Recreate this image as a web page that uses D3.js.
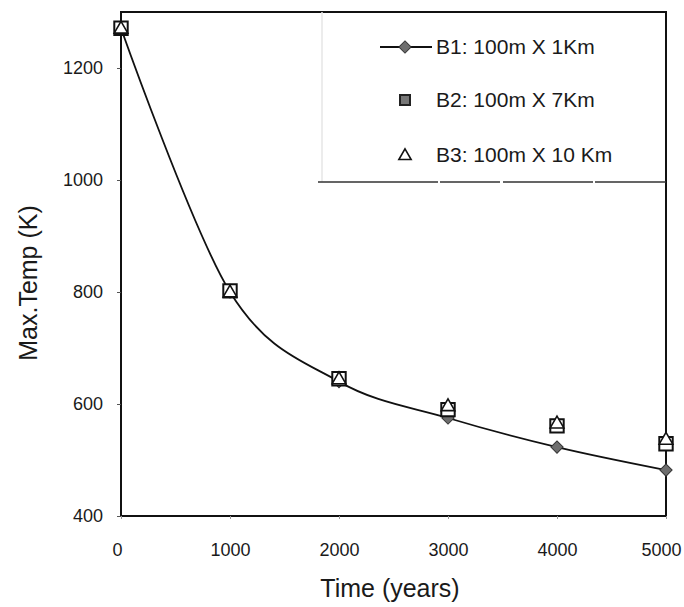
<!DOCTYPE html>
<html>
<head>
<meta charset="utf-8">
<script src="https://cdn.jsdelivr.net/npm/d3@7"></script>
<style>
  html, body { margin: 0; padding: 0; background: #fff; }
  svg { display: block; }
  text { font-family: "Liberation Sans", Arial, sans-serif; fill: #1a1a1a; }
</style>
</head>
<body>
<svg id="chart" width="684" height="607"></svg>
<script>
// ---- data ----
const times = [0, 1000, 2000, 3000, 4000, 5000];
const b1 = [1271, 800, 640, 575, 523, 482];
const b2 = [1271, 802, 645, 590, 561, 529];
const b3 = [1271, 800, 645, 597, 566, 537];
const xTicks = [0, 1000, 2000, 3000, 4000, 5000];
const yTicks = [400, 600, 800, 1000, 1200];
const seriesNames = ["B1: 100m X 1Km", "B2: 100m X 7Km", "B3: 100m X 10 Km"];

const svg = d3.select("#chart");
const x = d3.scaleLinear().domain([0, 5000]).range([121, 666]);
const y = d3.scaleLinear().domain([400, 1300]).range([516, 12]);

// frame
svg.append("rect")
  .attr("x", x(0)).attr("y", y(1300))
  .attr("width", x(5000) - x(0)).attr("height", y(400) - y(1300))
  .attr("fill", "none").attr("stroke", "#111").attr("stroke-width", 2);

// axes
const yAxis = svg.append("g").attr("transform", `translate(${x(0)},0)`)
  .call(d3.axisLeft(y).tickValues(yTicks).tickSize(4).tickPadding(14).tickFormat(d3.format("d")));
yAxis.select(".domain").remove();
yAxis.selectAll("line").attr("stroke", "#555");
yAxis.selectAll("text").style("font-size", "18px").attr("fill", "#1a1a1a");

const xAxis = svg.append("g").attr("transform", `translate(0,${y(400)})`)
  .call(d3.axisBottom(x).tickValues(xTicks).tickSize(3).tickPadding(24).tickFormat(d3.format("d")));
xAxis.select(".domain").remove();
xAxis.selectAll("line").attr("stroke", "#999");
xAxis.selectAll("text").style("font-size", "18px").attr("fill", "#1a1a1a")
  .attr("dx", d => d === 5000 ? -5 : (d === 0 ? -4 : 0));

// axis titles
svg.append("text").attr("x", 390).attr("y", 597).attr("text-anchor", "middle")
  .style("font-size", "25px").text("Time (years)");
svg.append("text").attr("transform", "translate(37,283) rotate(-90)").attr("text-anchor", "middle")
  .style("font-size", "25px").text("Max.Temp (K)");

// B1 smooth line
const pts1 = times.map((t, i) => [t, b1[i]]);
svg.append("path").datum(pts1)
  .attr("d", d3.line().x(d => x(d[0])).y(d => y(d[1])).curve(d3.curveCardinal.tension(0)))
  .attr("fill", "none").attr("stroke", "#111").attr("stroke-width", 1.8);

const diamond = d3.symbol().type(d3.symbolSquare).size(75);
const square = d3.symbol().type(d3.symbolSquare).size(180);
const triangle = d3.symbol().type(d3.symbolTriangle).size(80);

svg.append("g").selectAll("path").data(pts1).join("path")
  .attr("transform", d => `translate(${x(d[0])},${y(d[1])}) rotate(45)`)
  .attr("d", diamond).attr("fill", "#6e6e6e").attr("stroke", "#333").attr("stroke-width", 1);

svg.append("g").selectAll("path").data(times.map((t, i) => [t, b2[i]])).join("path")
  .attr("transform", d => `translate(${x(d[0])},${y(d[1])})`)
  .attr("d", square).attr("fill", "#fff").attr("stroke", "#111").attr("stroke-width", 2);

svg.append("g").selectAll("path").data(times.map((t, i) => [t, b3[i]])).join("path")
  .attr("transform", d => `translate(${x(d[0])},${y(d[1]) + 1})`)
  .attr("d", triangle).attr("fill", "#fff").attr("stroke", "#111").attr("stroke-width", 1.6);

// legend box (shares frame top and right)
const lgLeft = 322, lgBottom = 182;
svg.append("line").attr("x1", lgLeft).attr("x2", lgLeft).attr("y1", y(1300)).attr("y2", lgBottom)
  .attr("stroke", "#e6e6e6").attr("stroke-width", 1.5);
svg.append("line").attr("x1", 318).attr("x2", x(5000)).attr("y1", lgBottom).attr("y2", lgBottom)
  .attr("stroke", "#333").attr("stroke-width", 1.5).attr("stroke-dasharray", "120 2 60 3 90 2");

const lgRows = [47, 100, 155];
const lgMarkX = 405, lgTextX = 436;
// B1 entry
svg.append("line").attr("x1", 380).attr("x2", 432).attr("y1", lgRows[0]).attr("y2", lgRows[0])
  .attr("stroke", "#111").attr("stroke-width", 1.8);
svg.append("path").attr("transform", `translate(${lgMarkX},${lgRows[0]}) rotate(45)`)
  .attr("d", diamond).attr("fill", "#6e6e6e").attr("stroke", "#333");
// B2 entry
svg.append("path").attr("transform", `translate(${lgMarkX},${lgRows[1]})`)
  .attr("d", d3.symbol().type(d3.symbolSquare).size(100)).attr("fill", "#777").attr("stroke", "#222").attr("stroke-width", 2);
// B3 entry
svg.append("path").attr("transform", `translate(${lgMarkX},${lgRows[2] + 1})`)
  .attr("d", d3.symbol().type(d3.symbolTriangle).size(65)).attr("fill", "#fff").attr("stroke", "#111").attr("stroke-width", 1.6);

svg.append("g").selectAll("text").data(seriesNames).join("text")
  .attr("x", lgTextX).attr("y", (d, i) => lgRows[i]).attr("dy", "0.35em")
  .style("font-size", "21px").text(d => d);
</script>
</body>
</html>
